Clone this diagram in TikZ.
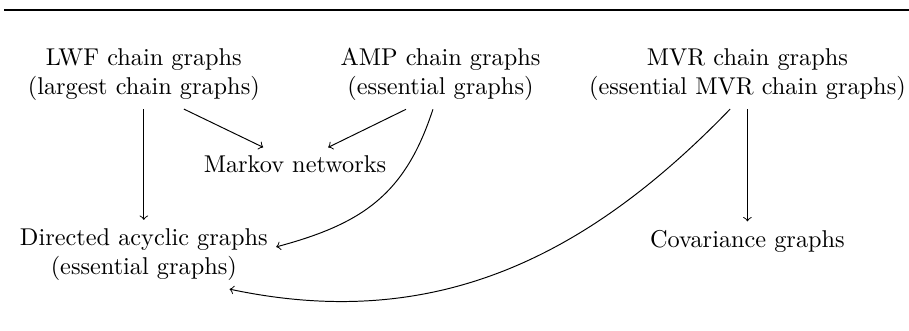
\documentclass[tikz,border=0pt]{standalone}
\usetikzlibrary{calc}
\begin{document}
\begin{tikzpicture}[
    family/.style={align=center, inner sep=3.33pt},
    arrow/.style={->}
  ]
  \useasboundingbox (0,0) rectangle (13.147,-4.787);
  % ---- rule above the figure ----
  \draw[line width=0.6pt] (0.058,-0.145) -- (13.147,-0.145);

  % ---- top row: the three chain graph families ----
  \node[family] (lwf) at (2.08,-1.077)  {LWF chain graphs\\(largest chain graphs)};
  \node[family] (amp) at (6.371,-1.077) {AMP chain graphs\\(essential graphs)};
  \node[family] (mvr) at (10.81,-1.077) {MVR chain graphs\\(essential MVR chain graphs)};

  % ---- lower rows: the subclasses ----
  \node[family] (markov) at (4.267,-2.379) {Markov networks};
  \node[family] (dag)    at (2.08,-3.681)  {Directed acyclic graphs\\(essential graphs)};
  \node[family] (cov)    at (10.81,-3.486) {Covariance graphs};

  \draw[arrow] (lwf) -- (dag);
  \draw[arrow] ([xshift=0.58cm]lwf.south) -- ([xshift=-0.46cm]markov.north);
  \draw[arrow] ([xshift=-0.50cm]amp.south) -- ([xshift=0.48cm]markov.north);
  \draw[arrow] (mvr) -- (cov);

  % curved arrows into the DAG node
  \draw[arrow] ([xshift=-0.11cm]amp.south) to[out=-108, in=15, looseness=1.1]
               ([yshift=0.11cm]dag.east);
  \draw[arrow] ([xshift=-0.25cm]mvr.south) to[out=-134, in=-12]
               ([xshift=1.24cm]dag.south);
\end{tikzpicture}
\end{document}
